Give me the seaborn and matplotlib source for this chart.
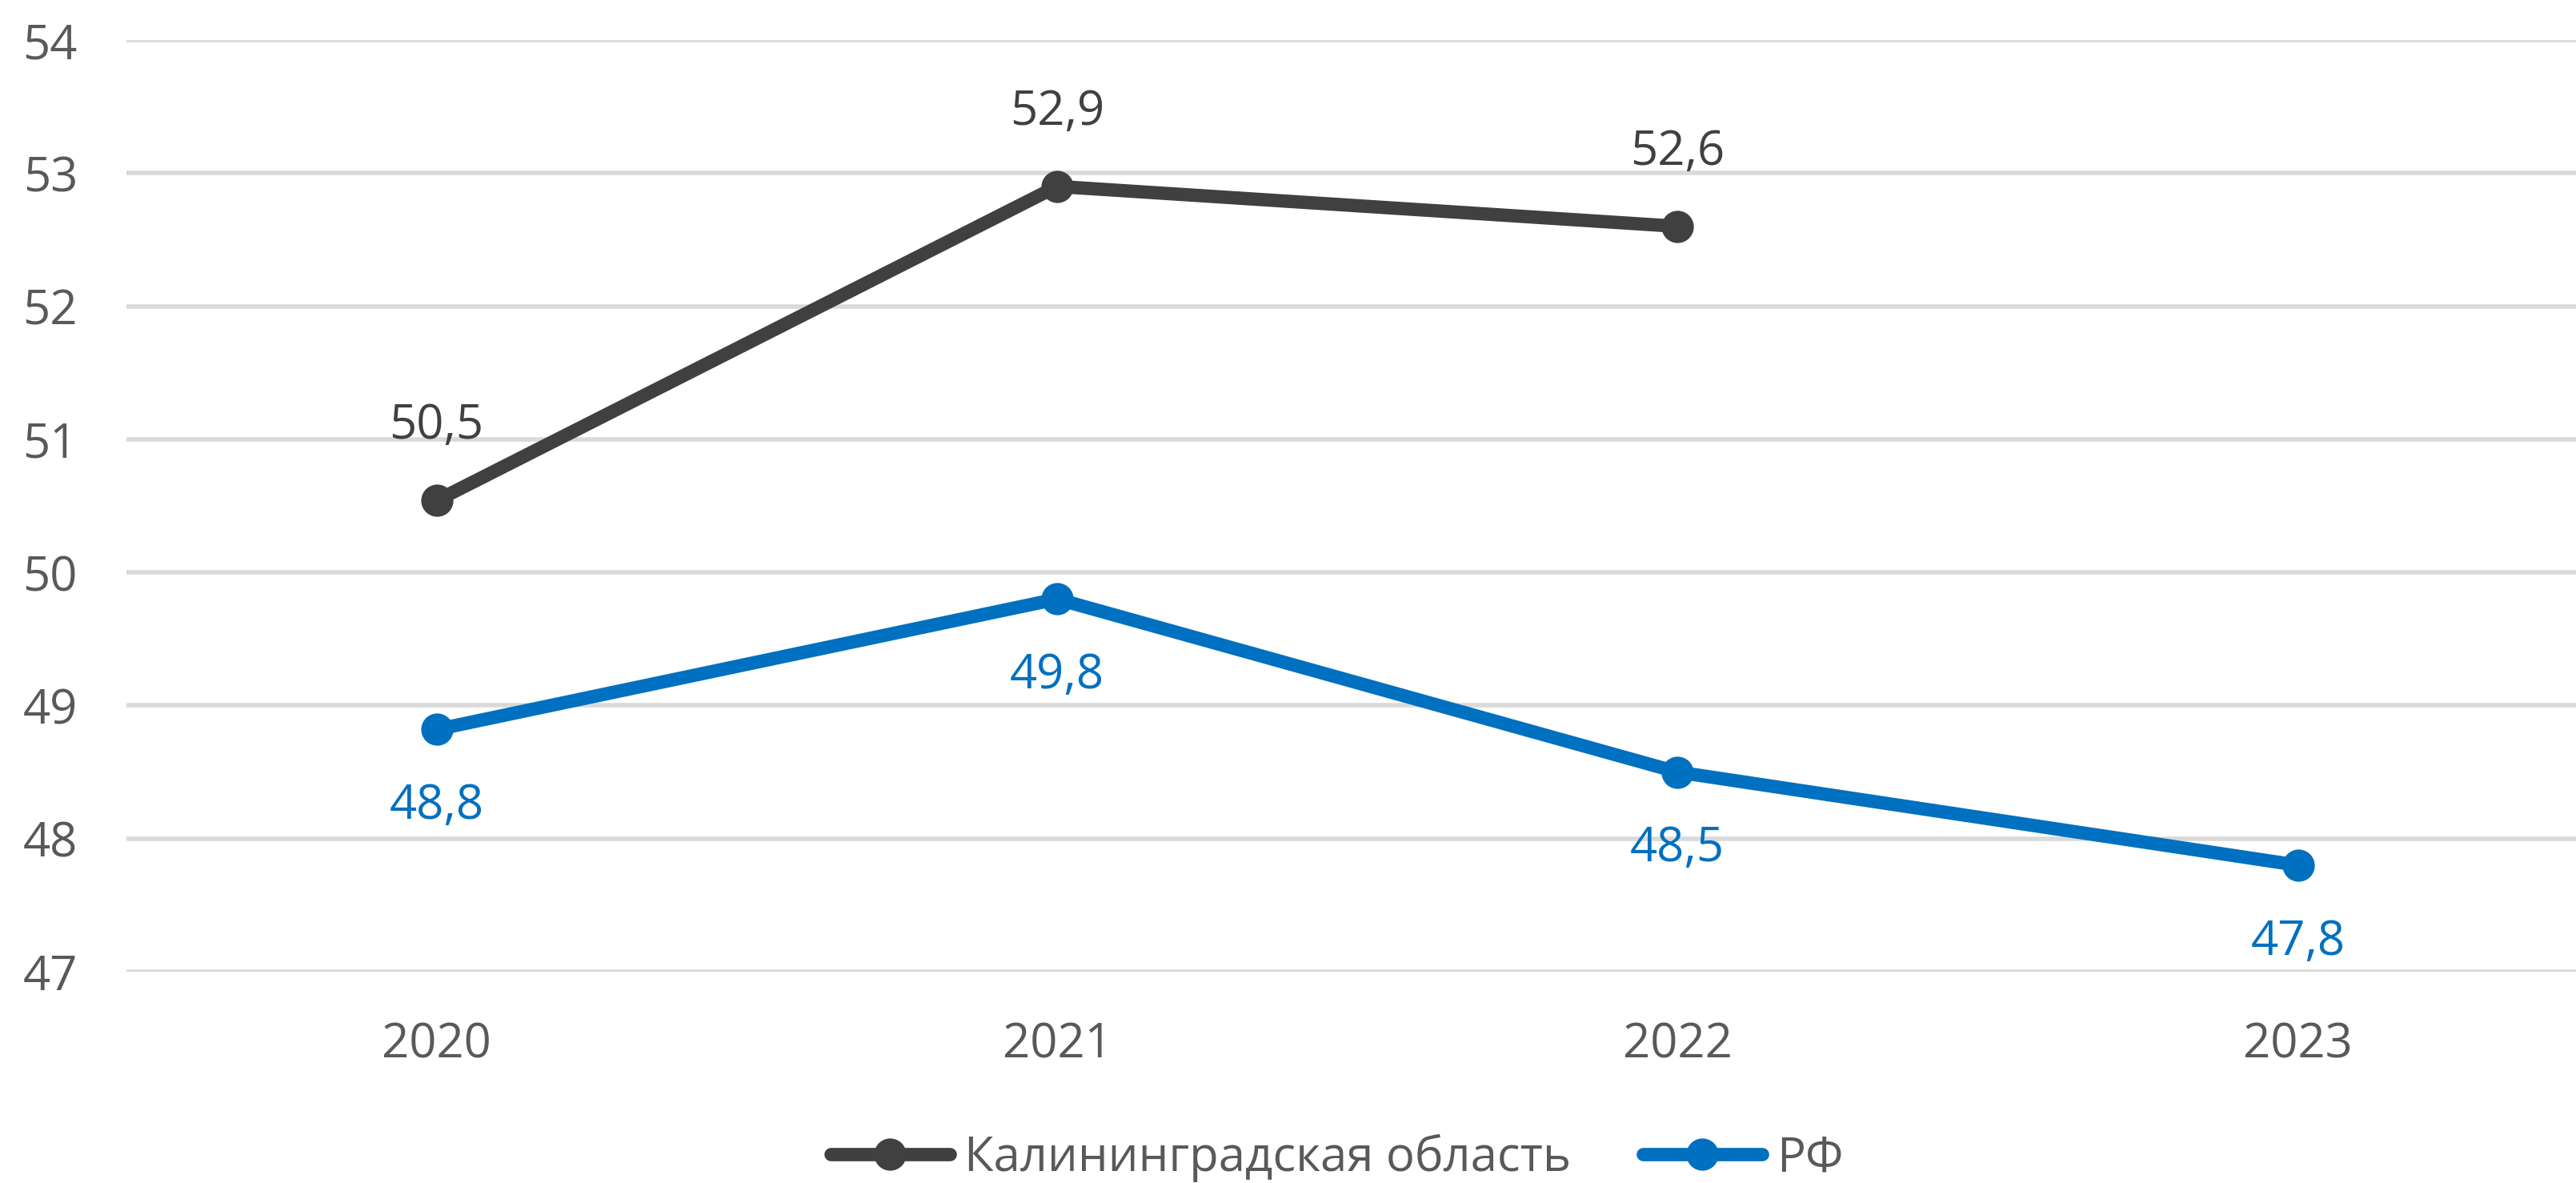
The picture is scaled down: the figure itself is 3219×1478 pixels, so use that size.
import matplotlib
matplotlib.use("Agg")
import matplotlib.pyplot as plt
import seaborn as sns
import pandas as pd
import numpy as np
from matplotlib.lines import Line2D

years = ["2020", "2021", "2022", "2023"]
kaliningrad = [50.54, 52.9, 52.6, np.nan]
rf = [48.82, 49.8, 48.5, 47.8]
series_names = ["Калининградская область", "РФ"]
colors = ["#404040", "#0070C0"]
y_ticks = [47, 48, 49, 50, 51, 52, 53, 54]

sns.set_theme(style="white")
plt.rcParams["font.family"] = ["Open Sans", "DejaVu Sans"]

df = pd.DataFrame({
    "year": years * 2,
    "value": kaliningrad + rf,
    "series": [series_names[0]] * 4 + [series_names[1]] * 4,
})

W, H = 3219, 1478
fig = plt.figure(figsize=(W / 100, H / 100), dpi=100)
ax = fig.add_axes([158 / W, 1 - 1214 / H, (W - 158) / W, (1214 - 50) / H])

FS = 43
LW = 12
MS = 29

sns.lineplot(data=df, x="year", y="value", hue="series", palette=colors,
             marker="o", markersize=MS, linewidth=LW, markeredgewidth=0,
             sort=False, ax=ax, legend=False)

ax.set_xlim(-0.5, -0.5 + (W - 158) / 775.3)
ax.set_ylim(47, 54)
ax.set_yticks(y_ticks)
ax.set_yticklabels([str(t) for t in y_ticks])
ax.yaxis.grid(True, color="#D9D9D9", linewidth=4)
ax.xaxis.grid(False)
ax.set_axisbelow(True)
for s in ax.spines.values():
    s.set_visible(False)
ax.set_xlabel("")
ax.set_ylabel("")
ax.tick_params(axis="both", length=0, labelsize=FS, labelcolor="#595959")
ax.tick_params(axis="y", pad=44)
ax.tick_params(axis="x", pad=44)

for i, v in enumerate(kaliningrad):
    if not np.isnan(v):
        ax.annotate(f"{v:.1f}".replace(".", ","), (i, v), xytext=(0, 67),
                    textcoords="offset points", ha="center", va="center",
                    fontsize=FS, color="#404040")
for i, v in enumerate(rf):
    ax.annotate(f"{v:.1f}".replace(".", ","), (i, v), xytext=(0, -69),
                textcoords="offset points", ha="center", va="center",
                fontsize=FS, color="#0070C0")

handles = [Line2D([], [], color=c, linewidth=LW, marker="o", markersize=MS,
                  markeredgewidth=0) for c in colors]
leg = fig.legend(handles, series_names, loc="center",
                 bbox_to_anchor=(0.519, 1 - 1447 / H), ncol=2, frameon=False,
                 fontsize=FS, handlelength=2.5, handletextpad=0.3,
                 columnspacing=1.5, borderpad=0)
for t in leg.get_texts():
    t.set_color("#595959")

fig.savefig("out.png", dpi=100)
